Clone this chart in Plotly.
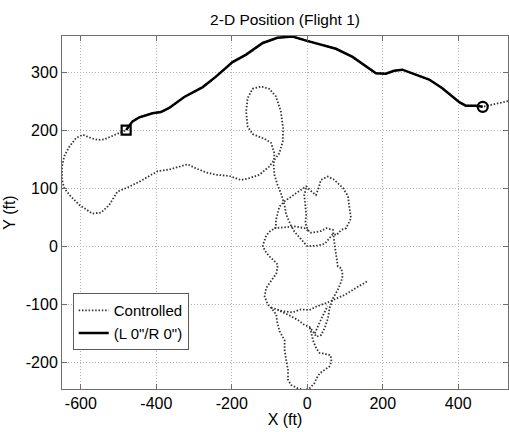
import plotly.graph_objects as go

# ---- data (ft) ----
# solid segment "(L 0\"/R 0\")": from square (start) to circle (end)
seg_x = [-480, -463, -445, -410, -388, -366, -326, -277, -242, -198, -162, -118, -79, -39, -3,
         32, 76, 120, 155, 182, 208, 230, 252, 288, 323, 358, 385, 403, 420, 447, 465]
seg_y = [200, 215, 222, 229, 231, 238, 257, 274, 292, 317, 330, 350, 359, 361, 354,
         348, 340, 326, 310, 298, 297, 302, 304, 295, 287, 272, 258, 248, 242, 242, 240]

# controlled flight: part entering from the right edge to the circle
tail_x = [532, 500]
tail_y = [250, 245]

# controlled flight after the square (None = break between strands)
ctrl_x = [-511, -538, -555, -573, -595, -613, -630, -644, -650, -650, -644, -630, -604, -586, -569,
          -546, -525, -503, -480, -445, -419, -397, -366, -339, -317, -295, -268, -242, -207, -176,
          -154, -127, -101, -87, -74, -65, -64, -70, -83, -101, -123, -145, -158, -162, -158, -145,
          -114, -96, -87, -89, -87, -79, -68, -60, -56, -45, -34, -11, 0,
          28, 46, 54, 68, 77, 90, 103, 116, 112, 108, 95, 85, 70, 54, 36, 30, 23, 10, -3,
          -30, -61, -74, -79, -83, -83, -100, -109, -118, -112, -101, -88, -78, -82, -95, -109,
          -113, -104, -96, -82, -80, -73, -60, -60, -56, -51, -51, -43, -25, -7, 6, 19, 24, 33,
          46, 59, 64, 62, 45, 33, 24, 15, 11, 6,
          None,
          -3, -8, -5, -3, -5, 1, 10, 36, 50, 68, 72, 77, 81, 90, 94, 90, 81, 68, 59, 55, 46, 37,
          24, 15, 6, -7, -25, -51, -78,
          None,
          -87, -60, -34, -7, 6,
          None,
          -96, -65, -39, -17, 6, 24, 50, 68, 99, 121, 143, 160,
          None,
          20, 30, 41, 54]
ctrl_y = [192, 184, 183, 186, 192, 186, 172, 155, 137, 114, 100, 88, 71, 63, 56,
          58, 71, 94, 100, 111, 120, 129, 132, 137, 141, 134, 127, 123, 121, 114,
          117, 123, 137, 149, 160, 180, 203, 232, 258, 271, 275, 271, 255, 232, 206, 193,
          185, 178, 160, 140, 123, 106, 88, 70, 55, 38, 25, 8, 0,
          1, 4, 10, 21, 19, 28, 31, 48, 65, 86, 100, 106, 115, 120, 114, 100, 88, 95, 103,
          91, 77, 68, 57, 45, 32, 25, 18, 1, -8, -17, -25, -32, -47, -58, -72,
          -87, -101, -106, -118, -130, -147, -162, -179, -196, -213, -230, -239, -245, -248, -245, -236, -228, -219,
          -213, -207, -199, -188, -185, -184, -176, -162, -150, -139,
          None,
          100, 88, 70, 54, 40, 28, 23, 26, 31, 28, 5, -21, -35, -38, -50, -61, -75, -90, -107, -124, -141, -153,
          -156, -147, -139, -136, -127, -118, -110,
          None,
          31, 32, 34, 31, 25,
          None,
          -106, -112, -114, -109, -110, -104, -98, -93, -84, -75, -67, -60,
          None,
          -150, -135, -120, -103]

x_ticks = [-600, -400, -200, 0, 200, 400]
x_tick_labels = ["-600", "-400", "-200", "0", "200", "400"]
y_ticks = [-200, -100, 0, 100, 200, 300]
y_tick_labels = ["-200", "-100", "0", "100", "200", "300"]
x_range = [-650, 532]
y_range = [-246, 362]

# full controlled path: right tail -> circle -> segment (reversed) -> square -> rest
full_x = tail_x + seg_x[::-1] + ctrl_x
full_y = tail_y + seg_y[::-1] + ctrl_y

FONT = "Liberation Sans, Arial, sans-serif"

fig = go.Figure()
fig.add_trace(go.Scatter(
    x=full_x, y=full_y, mode="lines", name="Controlled",
    line=dict(color="#333333", width=1.8, dash="1.5px,1.8px"),
    connectgaps=False,
))
fig.add_trace(go.Scatter(
    x=seg_x, y=seg_y, mode="lines", name="(L 0\"/R 0\")",
    line=dict(color="black", width=2.5),
))
fig.add_trace(go.Scatter(
    x=[seg_x[0]], y=[seg_y[0]], mode="markers", showlegend=False,
    marker=dict(symbol="square-open", size=9, color="black", line=dict(width=2.2, color="black")),
))
fig.add_trace(go.Scatter(
    x=[seg_x[-1]], y=[seg_y[-1]], mode="markers", showlegend=False,
    marker=dict(symbol="circle-open", size=10, color="black", line=dict(width=2.2, color="black")),
))

axis_common = dict(
    showgrid=True, gridcolor="#b0b0b0", griddash="1px,2px", gridwidth=1,
    zeroline=False, showline=True, linecolor="#6e6e6e", linewidth=1,
    mirror="ticks", ticks="inside", ticklen=5, tickcolor="#6e6e6e",
    tickfont=dict(family=FONT, size=16, color="black"),
)

fig.update_xaxes(range=x_range, tickvals=x_ticks, ticktext=x_tick_labels, **axis_common,
                 title=dict(text="X (ft)", font=dict(family=FONT, size=16, color="black"), standoff=2))
fig.update_yaxes(range=y_range, tickvals=y_ticks, ticktext=y_tick_labels, **axis_common,
                 title=dict(text="Y (ft)", font=dict(family=FONT, size=16, color="black"), standoff=6))

fig.update_layout(
    width=509, height=432,
    margin=dict(l=62, r=1, t=36, b=43),
    plot_bgcolor="white", paper_bgcolor="white",
    font=dict(family=FONT, color="black"),
    title=dict(text="2-D Position (Flight 1)", x=0.56, xanchor="center",
               y=1 - 20 / 432, yanchor="middle",
               font=dict(family=FONT, size=15.5, color="black")),
    legend=dict(x=0.024, y=0.11, xanchor="left", yanchor="bottom",
                bgcolor="white", bordercolor="#5a5a5a", borderwidth=1,
                font=dict(family=FONT, size=15, color="black"),
                tracegroupgap=0),
    showlegend=True,
)

fig.write_html("out.html",
               config={"displayModeBar": False},
               post_script="document.body.style.margin='0';document.body.style.overflow='hidden';")
